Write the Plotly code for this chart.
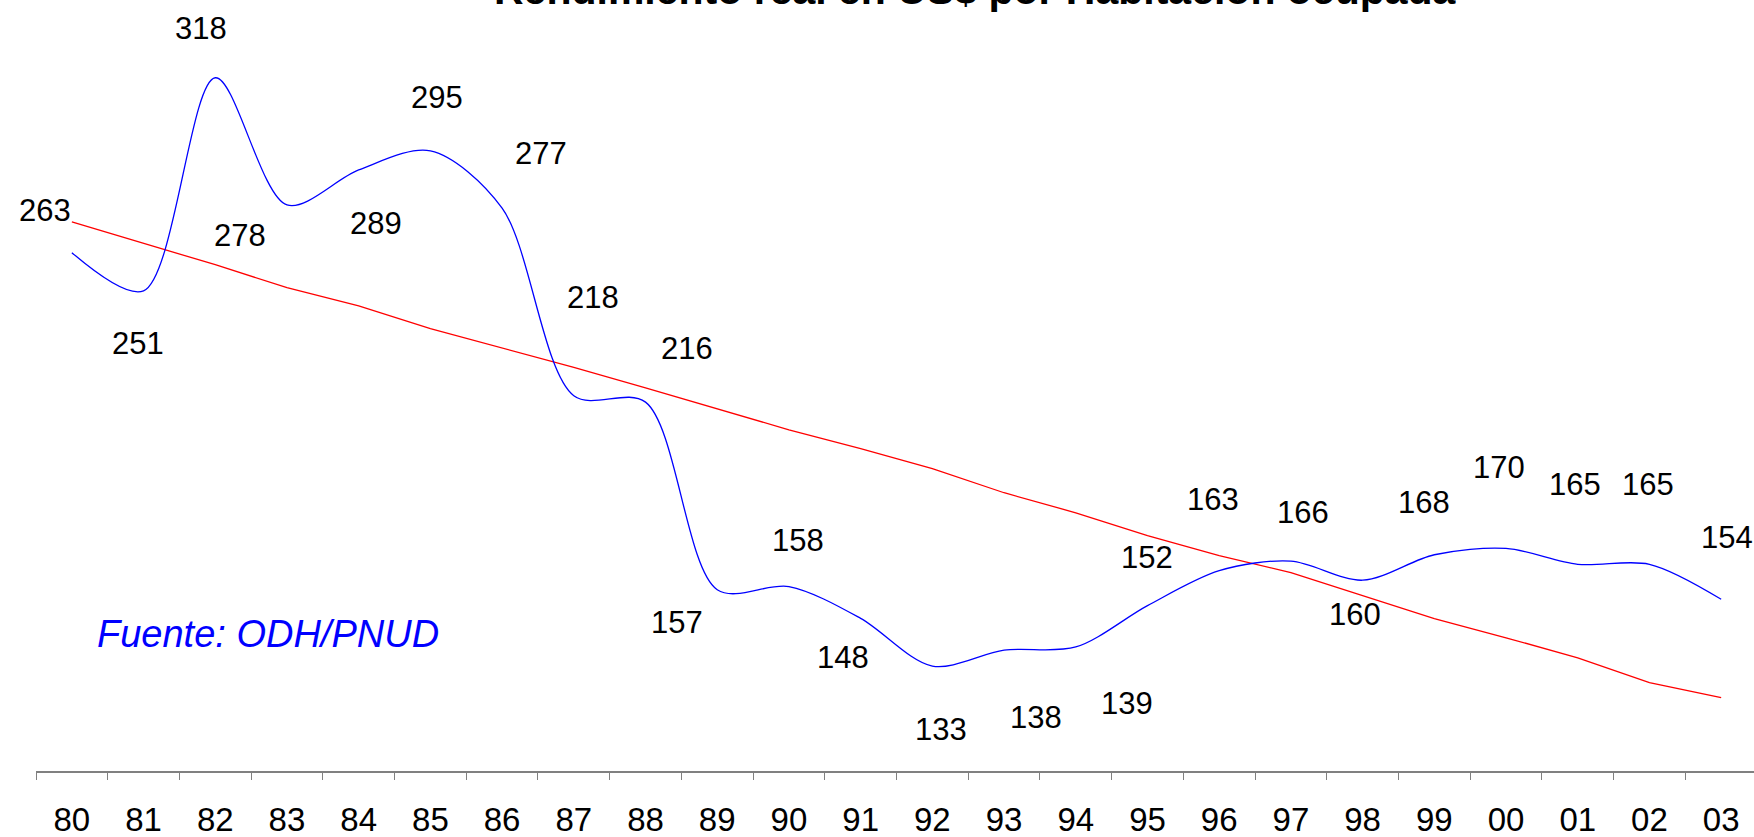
import plotly.graph_objects as go

years = ["80", "81", "82", "83", "84", "85", "86", "87", "88", "89", "90", "91",
         "92", "93", "94", "95", "96", "97", "98", "99", "00", "01", "02", "03"]
rendimiento = [263, 251, 318, 278, 289, 295, 277, 218, 216, 157, 158, 148,
               133, 138, 139, 152, 163, 166, 160, 168, 170, 165, 165, 154]
tendencia = [272.7, 265.9, 259.2, 252.0, 246.3, 239.1, 233.1, 226.9, 220.5, 214.0,
             207.3, 201.4, 195.1, 187.5, 181.2, 174.0, 167.7, 162.4, 155.1, 147.9,
             141.9, 135.6, 127.8, 123.1]

title_text = "Rendimiento real en US$ por Habitación ocupada"
source_text = "Fuente: ODH/PNUD"

# label offsets in pixels (dx right, dy down) relative to each data point
label_dx = [-27, -6, -14, -47, 17, 7, 39, 19, 41, -40, 9, -18,
            9, 32, 51, 0, -6, 12, -8, -10, -7, -3, -1, 6]
label_dy = [-42, 53, -49, 31, 54, -53, -55, -98, -54, 33, -46, 39,
            63, 67, 57, -48, -71, -49, 34, -52, -81, -80, -80, -62]

FONT = "Liberation Sans, Arial, sans-serif"

fig = go.Figure()
fig.add_trace(go.Scatter(x=years, y=tendencia, mode="lines",
                         line=dict(color="#FF0000", width=1.3),
                         hoverinfo="skip", showlegend=False))
fig.add_trace(go.Scatter(x=years, y=rendimiento, mode="lines",
                         line=dict(color="#0000FF", width=1.3, shape="spline", smoothing=0.9),
                         showlegend=False))

annotations = []
for i, (v, dx, dy) in enumerate(zip(rendimiento, label_dx, label_dy)):
    annotations.append(dict(x=i, y=v, xref="x", yref="y", text=str(v), showarrow=False,
                            xshift=dx, yshift=-dy, xanchor="center", yanchor="middle",
                            font=dict(family=FONT, size=31, color="black")))

annotations.append(dict(x=0.547, y=1, xref="paper", yref="paper", text="<b>" + title_text + "</b>",
                        showarrow=False, xanchor="center", yanchor="bottom", yshift=-15,
                        font=dict(family=FONT, size=41, color="black")))
annotations.append(dict(x=0.135, y=0.1777, xref="paper", yref="paper", text="<i>" + source_text + "</i>",
                        showarrow=False, xanchor="center", yanchor="middle",
                        font=dict(family=FONT, size=38, color="#0000FF")))

fig.update_layout(
    width=1754, height=837,
    margin=dict(l=36, r=0, t=0, b=66),
    paper_bgcolor="white", plot_bgcolor="white",
    annotations=annotations,
    xaxis=dict(type="category", range=[-0.5, 23.458], tickson="boundaries",
               showline=True, linecolor="#808080", linewidth=1.5,
               ticks="outside", ticklen=7, tickcolor="#808080", tickwidth=1.3,
               showgrid=False, zeroline=False, automargin=False,
               ticklabelstandoff=19,
               tickfont=dict(family=FONT, size=33, color="black")),
    yaxis=dict(range=[100, 342.45], visible=False, showgrid=False, zeroline=False),
)

fig.write_html("out.html", config={"displayModeBar": False},
               post_script="document.body.style.margin='0';document.body.style.overflow='hidden';")
